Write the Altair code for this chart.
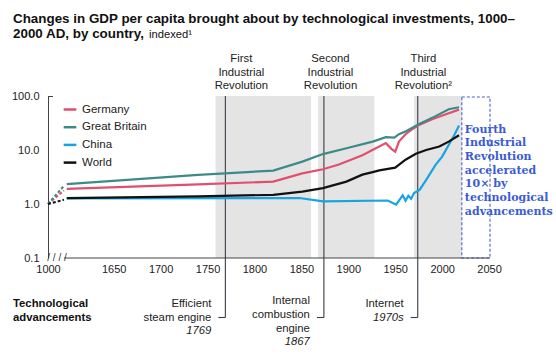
import altair as alt
import pandas as pd

# ---------------- data ----------------
countries = ["Germany", "Great Britain", "China", "World"]
colors = ["#e0506e", "#3d8a87", "#18a4e0", "#111111"]

germany_years = [1600, 1740, 1820, 1851, 1873, 1890, 1915, 1940, 1946, 1950, 1954, 1961, 1968, 1976, 1990, 2004, 2018]
germany_vals = [1.91, 2.3, 2.6, 3.7, 4.4, 5.4, 8.0, 13.4, 10.5, 9.3, 14.3, 19.6, 24.2, 29.5, 37.6, 46.0, 56.0]

gb_years = [1600, 1740, 1820, 1851, 1873, 1898, 1926, 1940, 1949, 1954, 1962, 1975, 1990, 2007, 2018]
gb_vals = [2.33, 3.45, 4.16, 6.1, 8.4, 10.8, 14.3, 17.3, 17.0, 19.6, 22.5, 30.0, 39.8, 57.0, 62.0]

china_years = [1600, 1848, 1873, 1942, 1951, 1954, 1958, 1961, 1964, 1967, 1970, 1976, 1983, 1993, 2000, 2007, 2013, 2018]
china_vals = [1.27, 1.29, 1.12, 1.16, 0.97, 1.15, 1.45, 1.15, 1.42, 1.25, 1.59, 1.83, 2.8, 5.3, 7.55, 12.4, 19.0, 28.5]

world_years = [1600, 1740, 1820, 1851, 1873, 1898, 1915, 1926, 1933, 1950, 1961, 1972, 1983, 1997, 2007, 2018]
world_vals = [1.29, 1.38, 1.48, 1.7, 1.97, 2.6, 3.5, 3.9, 4.2, 4.7, 6.6, 8.5, 10.0, 11.6, 14.3, 18.8]

# the broken-axis start (year 1000, index 1.0) drawn at the left edge
break_year = 1580
break_value = 1.0

x_tick_values = [1580, 1650, 1700, 1750, 1800, 1850, 1900, 1950, 2000, 2050]
y_tick_values = [0.1, 1, 10, 100]

band_starts = [1758.5, 1867.8, 1970.2]
band_ends = [1860.3, 1927.7, 2021.0]
rev_labels = ["First\nIndustrial\nRevolution", "Second\nIndustrial\nRevolution", "Third\nIndustrial\nRevolution²"]
rev_label_years = [1786, 1881, 1980]

event_years = [1769, 1874, 1974]
event_texts = ["Efficient\nsteam engine", "Internal\ncombustion\nengine", "Internet"]
event_dates = ["1769", "1867", "1970s"]

future_start, future_end = 2021, 2051
future_text = "Fourth\nIndustrial\nRevolution\naccelerated\n10× by\ntechnological\nadvancements"

# ---------------- layout ----------------
W, H = 442, 162
FONT = "Liberation Sans"
TXT = "#222222"
event_label_y = [211.3, 208.0, 210.7]
event_date_y = [238.0, 249.0, 225.0]
connector_y = 221.5

series = {"Germany": (germany_years, germany_vals),
          "Great Britain": (gb_years, gb_vals),
          "China": (china_years, china_vals),
          "World": (world_years, world_vals)}
rows, dash_rows = [], []
for name, (ys, vs) in series.items():
    for y, v in zip(ys, vs):
        rows.append({"country": name, "year": y, "value": v})
    if name != "China":
        dash_rows.append({"country": name, "year": break_year, "value": break_value})
        dash_rows.append({"country": name, "year": ys[0] - 3, "value": vs[0] * 0.93})
df = pd.DataFrame(rows)
dash_df = pd.DataFrame(dash_rows)

x_scale = alt.Scale(domain=[break_year, future_end], nice=False, zero=False)
y_scale = alt.Scale(type="log", domain=[0.1, 100], nice=False)
x_axis = alt.Axis(values=x_tick_values, format="d",
                  labelExpr="datum.value < 1600 ? '1000' : datum.label",
                  domain=False, ticks=False, tickSize=0, grid=False, title=None,
                  labelFlush=False, labelOverlap=False, labelBound=False,
                  labelPadding=5, labelFontSize=11, labelFont=FONT, labelColor=TXT)
y_axis = alt.Axis(values=y_tick_values, format=".1f", domain=True, domainColor="#444444",
                  ticks=False, tickSize=0, grid=False, title=None, labelPadding=9,
                  labelFlush=False, labelOverlap=False,
                  labelFontSize=11, labelFont=FONT, labelColor=TXT)
color_scale = alt.Scale(domain=countries, range=colors)
legend = alt.Legend(orient="none", legendX=14, legendY=5.5, title=None, symbolType="stroke",
                    symbolStrokeWidth=2.5, symbolSize=160, labelFontSize=11.5, labelFont=FONT,
                    labelColor=TXT, labelOffset=4, rowPadding=3.7)


def X(field, **kw):
    return alt.X(field, type="quantitative", scale=x_scale, axis=x_axis, **kw)


bands_df = pd.DataFrame({"start": band_starts, "end": band_ends})
bands = alt.Chart(bands_df).mark_rect(color="#e4e4e4").encode(
    x=X("start"), x2="end", y=alt.value(0), y2=alt.value(H))

future_df = pd.DataFrame({"start": [future_start], "end": [future_end]})
future_box = alt.Chart(future_df).mark_rect(filled=False, stroke="#4a60d6", strokeWidth=1.1,
                                            strokeDash=[3, 2]).encode(
    x=X("start"), x2="end", y=alt.value(1), y2=alt.value(H))

axis_line = alt.Chart(pd.DataFrame({"a": [1597], "b": [future_end]})).mark_rule(
    color="#444444", strokeWidth=1).encode(x=X("a"), x2="b", y=alt.value(H))

# small top tick of the y axis, pointing inwards
top_tick = alt.Chart(pd.DataFrame({"a": [break_year]})).mark_rule(
    color="#444444", strokeWidth=1, x2Offset=5).encode(x=X("a"), x2="a", y=alt.value(0.5))

ev_df = pd.DataFrame({"year": event_years, "text": event_texts, "date": event_dates})
ev_lines = alt.Chart(ev_df).mark_rule(color="#3a3a48", strokeWidth=1.1).encode(
    x=X("year"), y=alt.value(0), y2=alt.value(connector_y))
ev_conn = alt.Chart(ev_df).mark_rule(color="#3a3a48", strokeWidth=1.1, x2Offset=-7).encode(
    x=X("year"), x2="year", y=alt.value(connector_y))

dashes = alt.Chart(dash_df).mark_line(strokeWidth=2, strokeDash=[3, 2]).encode(
    x=X("year"), y=alt.Y("value:Q", scale=y_scale, axis=y_axis),
    color=alt.Color("country:N", scale=color_scale, legend=legend))

lines = alt.Chart(df).mark_line(strokeWidth=2.2).encode(
    x=X("year"), y=alt.Y("value:Q", scale=y_scale, axis=y_axis),
    color=alt.Color("country:N", scale=color_scale, legend=legend),
    order=alt.Order("year:Q"))

layers = [bands, future_box, axis_line, top_tick, ev_lines, ev_conn, dashes, lines]

# event labels under the axis
for yr, txt, dt, ly, dy in zip(event_years, event_texts, event_dates, event_label_y, event_date_y):
    d = pd.DataFrame({"year": [yr], "t": [txt], "d": [dt]})
    layers.append(alt.Chart(d).mark_text(align="right", baseline="alphabetic", dx=-14,
                                         lineBreak="\n", lineHeight=13.8, fontSize=11.3,
                                         font=FONT, color=TXT).encode(
        x=X("year"), y=alt.value(ly), text="t:N"))
    layers.append(alt.Chart(d).mark_text(align="right", baseline="alphabetic", dx=-14,
                                         fontSize=11.3, font=FONT, fontStyle="italic",
                                         color=TXT).encode(
        x=X("year"), y=alt.value(dy), text="d:N"))

# revolution labels above the plot
rev_df = pd.DataFrame({"year": rev_label_years, "t": rev_labels})
layers.append(alt.Chart(rev_df).mark_text(align="center", baseline="alphabetic", lineBreak="\n",
                                          lineHeight=13.6, fontSize=11.3, font=FONT,
                                          color=TXT).encode(
    x=X("year"), y=alt.value(-34), text="t:N"))

# fourth revolution note
fut_df = pd.DataFrame({"year": [future_start], "t": [future_text]})
layers.append(alt.Chart(fut_df).mark_text(align="left", baseline="alphabetic", dx=3,
                                          lineBreak="\n", lineHeight=13.7, fontSize=11,
                                          font="DejaVu Serif", fontWeight="bold",
                                          color="#3a5bd6").encode(
    x=X("year"), y=alt.value(36.7), text="t:N"))

# title
layers.append(alt.Chart(pd.DataFrame({"t": ["Changes in GDP per capita brought about by technological investments, 1000–"]}))
              .mark_text(align="left", baseline="alphabetic", fontSize=13.4, fontWeight="bold",
                         font=FONT, color="#111111")
              .encode(x=alt.value(-35), y=alt.value(-73.3), text="t:N"))
layers.append(alt.Chart(pd.DataFrame({"t": ["2000 AD, by country,"]}))
              .mark_text(align="left", baseline="alphabetic", fontSize=13.4, fontWeight="bold",
                         font=FONT, color="#111111")
              .encode(x=alt.value(-35), y=alt.value(-57.7), text="t:N"))
layers.append(alt.Chart(pd.DataFrame({"t": ["indexed¹"]}))
              .mark_text(align="left", baseline="alphabetic", fontSize=11.2, font=FONT,
                         color="#111111")
              .encode(x=alt.value(101), y=alt.value(-57.7), text="t:N"))

# technological advancements heading
layers.append(alt.Chart(pd.DataFrame({"t": ["Technological\nadvancements"]}))
              .mark_text(align="left", baseline="alphabetic", lineBreak="\n", lineHeight=14.3,
                         fontSize=11.3, fontWeight="bold", font=FONT, color="#111111")
              .encode(x=alt.value(-35), y=alt.value(210.7), text="t:N"))

# axis break mark
layers.append(alt.Chart(pd.DataFrame({"t": ["/ / / /"]}))
              .mark_text(align="center", baseline="middle", fontSize=10, font=FONT,
                         color="#333333")
              .encode(x=alt.value(9), y=alt.value(H), text="t:N"))

chart = alt.layer(*layers).properties(
    width=W, height=H,
    autosize=alt.AutoSizeParams(type="none"),
    padding={"left": 48, "top": 96, "right": 66, "bottom": 96},
    background="white",
).configure_view(stroke=None)

chart.save("out.html", embed_options={"renderer": "svg", "actions": False})
